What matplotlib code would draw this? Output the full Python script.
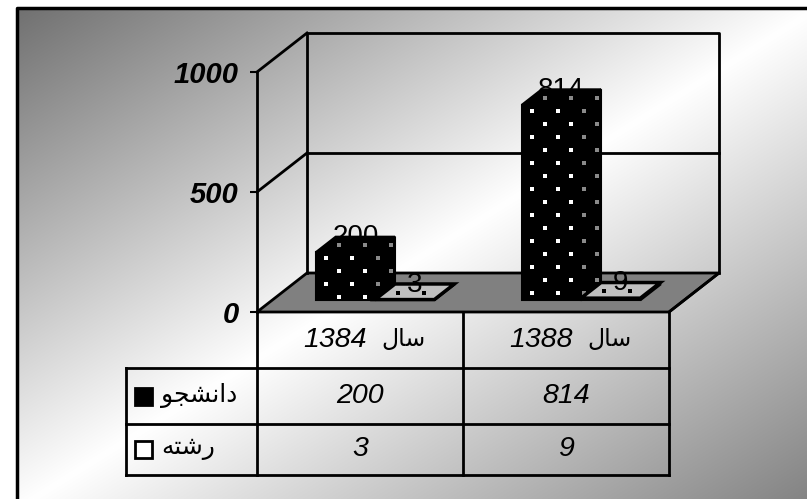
import numpy as np
import matplotlib.pyplot as plt
from matplotlib.patches import Polygon, Rectangle

# ---- data -------------------------------------------------------------
years = ['1384', '1388']
students = [200, 814]      # دانشجو
fields = [3, 9]            # رشته
yticks = [0, 500, 1000]

# persian words in arabic presentation forms, visual (left-to-right) order,
# because matplotlib does no arabic shaping / bidi
fa_sal = '\ufedd\ufe8e\ufeb3'                       # سال
fa_names = ['\ufeee\ufea0\ufeb8\ufee7\ufe8d\ufea9',  # دانشجو
            '\ufeea\ufe98\ufeb7\ufead']              # رشته

# ---- layout (pixels of the 807x499 picture) -----------------------------
W, H = 807, 499
X0, X1 = 257, 669      # front plane, category 0 .. 2
Y0, Y1 = 312, 72       # front plane, value 0 .. 1000
SX = 2 / (X1 - X0)     # data units per pixel
SY = 1000 / (Y0 - Y1)
DX, DY = 50 * SX, 39 * SY   # depth of the 3d box
BW = 0.288                  # bar width (category units)
D0, D1 = 0.3, 0.7           # bar depth span

FONT = ['Liberation Sans', 'DejaVu Sans']
FA_FONT = ['DejaVu Sans']   # oblique face has no arabic glyphs -> upright


def p(x, v, d=0.0):
    return (x + d * DX, v + d * DY)


def px_x(px):
    return (px - X0) * SX


def px_v(py):
    return (Y0 - py) * SY


fig = plt.figure(figsize=(W / 100, H / 100), dpi=100)

# background gradient + frame
bg = fig.add_axes([0, 0, 1, 1], zorder=0)
yy, xx = np.mgrid[0:H, 0:W]
s = (xx - 17) / 800 + (yy - 8) / 500
g = np.where(s < 1, 1 - 0.56 * (1 - s), 1 - 0.5 * (s - 1))
g[(xx < 17) | (yy < 8)] = 1
bg.imshow(np.dstack([g, g, g]).clip(0, 1), extent=[0, W, H, 0], aspect='auto')
bg.plot([17, 17, W + 5], [H + 5, 8, 8], color='black', lw=2.5)
bg.set_xlim(0, W)
bg.set_ylim(H, 0)
bg.axis('off')

ax = fig.add_axes([X0 / W, 1 - Y0 / H, (X1 - X0) / W, (Y0 - Y1) / H], zorder=1)
ax.set_xlim(0, 2)
ax.set_ylim(0, 1000)
ax.patch.set_visible(False)
for side in ['top', 'right', 'bottom']:
    ax.spines[side].set_visible(False)
ax.spines['left'].set_linewidth(2)
ax.set_xticks([])
ax.set_yticks(yticks)
ax.set_yticklabels([str(t) for t in yticks], fontsize=21, fontweight='bold',
                   style='italic', family=FONT)
ax.tick_params(axis='y', length=5, width=1.5, pad=8)


def line(pts, lw=2, z=2):
    xs, vs = zip(*pts)
    ax.plot(xs, vs, color='black', lw=lw, clip_on=False, zorder=z,
            solid_capstyle='projecting')


def face(pts, fc, ec='black', lw=1.0, z=3):
    patch = Polygon(pts, closed=True, fc=fc, ec=ec, lw=lw, clip_on=False, zorder=z)
    ax.add_patch(patch)
    return patch


# walls
face([p(0, 0), p(2, 0), p(2, 0, 1), p(0, 0, 1)], '#808080', lw=2, z=1)
line([p(0, 0, 1), p(0, 1000, 1), p(2, 1000, 1), p(2, 0, 1)])
line([p(0, 500, 1), p(2, 500, 1)])
line([p(0, 500), p(0, 500, 1)])
line([p(0, 1000), p(0, 1000, 1)])


# dotted texture on the bars
def dots(x0, h, faces_colors):
    ox, oy = p(x0, h, D0)
    ox += 10 * SX
    oy -= 6 * SY
    pts = [(ox + i * 13 * SX, oy - j * 13 * SY)
           for i in range(-2, 8) for j in range(-3, 70) if (i + j) % 2 == 0]
    pts = [q for q in pts if q[1] > -5]
    xs, vs = zip(*pts)
    for patch, col in faces_colors:
        sc = ax.scatter(xs, vs, s=5, marker='s', color=col, lw=0, zorder=patch.get_zorder() + 0.1)
        sc.set_clip_path(patch)


# bars
for k, (vals, front, top, dotcol, sidedot) in enumerate([
        (students, 'black', 'black', 'white', '#8a8a8a'),
        (fields, 'white', '#c0c0c0', 'black', 'black')]):
    for i, h in enumerate(vals):
        xl = i + 0.5 - BW + k * BW
        xr = xl + BW
        z = 3 + k
        fr = face([p(xl, 0, D0), p(xr, 0, D0), p(xr, h, D0), p(xl, h, D0)], front, lw=1.5, z=z)
        sd = face([p(xr, 0, D0), p(xr, 0, D1), p(xr, h, D1), p(xr, h, D0)], front, lw=1.5, z=z)
        tp = face([p(xl, h, D0), p(xr, h, D0), p(xr, h, D1), p(xl, h, D1)], top, lw=1.5 + k, z=z)
        if k == 0:
            dots(xl, h, [(fr, dotcol), (sd, sidedot), (tp, sidedot)])
        else:
            dots(xl, h, [(tp, dotcol)])
        lx, lv = p(xl + BW / 2, h, 0.5)
        ax.text(lx, lv, str(h), ha='center', va='baseline', fontsize=20,
                family=FONT, zorder=2.5 if k == 0 else 6, clip_on=False)

# data table
rows = [312, 368, 424, 475]
xleft = px_x(126)
line([p(0, 0), p(0, px_v(rows[-1]))])
line([p(1, 0), p(1, px_v(rows[-1]))])
line([p(2, 0), p(2, px_v(rows[-1]))])
line([p(2, 0), p(2, 0, 1)])
line([(xleft, px_v(rows[1])), (xleft, px_v(rows[-1]))])
for r in rows[1:]:
    line([(xleft, px_v(r)), (2, px_v(r))])

txt = dict(va='center', fontsize=20.5, style='italic', family=FONT,
           clip_on=False, zorder=6)
for i, yr in enumerate(years):
    yc = px_v((rows[0] + rows[1]) / 2)
    ax.text(i + 0.5 + 7 * SX, yc, yr, ha='right', **txt)
    ax.text(i + 0.5 + 21 * SX, yc + 1 * SY, fa_sal, ha='left', va='center',
            fontsize=17, family=FA_FONT, clip_on=False, zorder=6)
    ax.text(i + 0.5, px_v((rows[1] + rows[2]) / 2), str(students[i]), ha='center', **txt)
    ax.text(i + 0.5, px_v((rows[2] + rows[3]) / 2), str(fields[i]), ha='center', **txt)

for r, (name, col) in enumerate(zip(fa_names, ['black', 'white'])):
    yc = px_v((rows[r + 1] + rows[r + 2]) / 2)
    ax.add_patch(Rectangle((px_x(135), yc - 8.5 * SY), 17 * SX, 17 * SY, fc=col,
                           ec='black', lw=2, clip_on=False, zorder=6))
    ax.text(px_x(161), yc + 1 * SY, name, ha='left', va='center', fontsize=18,
            family=FA_FONT, clip_on=False, zorder=6)

fig.savefig('out.png', dpi=100)
